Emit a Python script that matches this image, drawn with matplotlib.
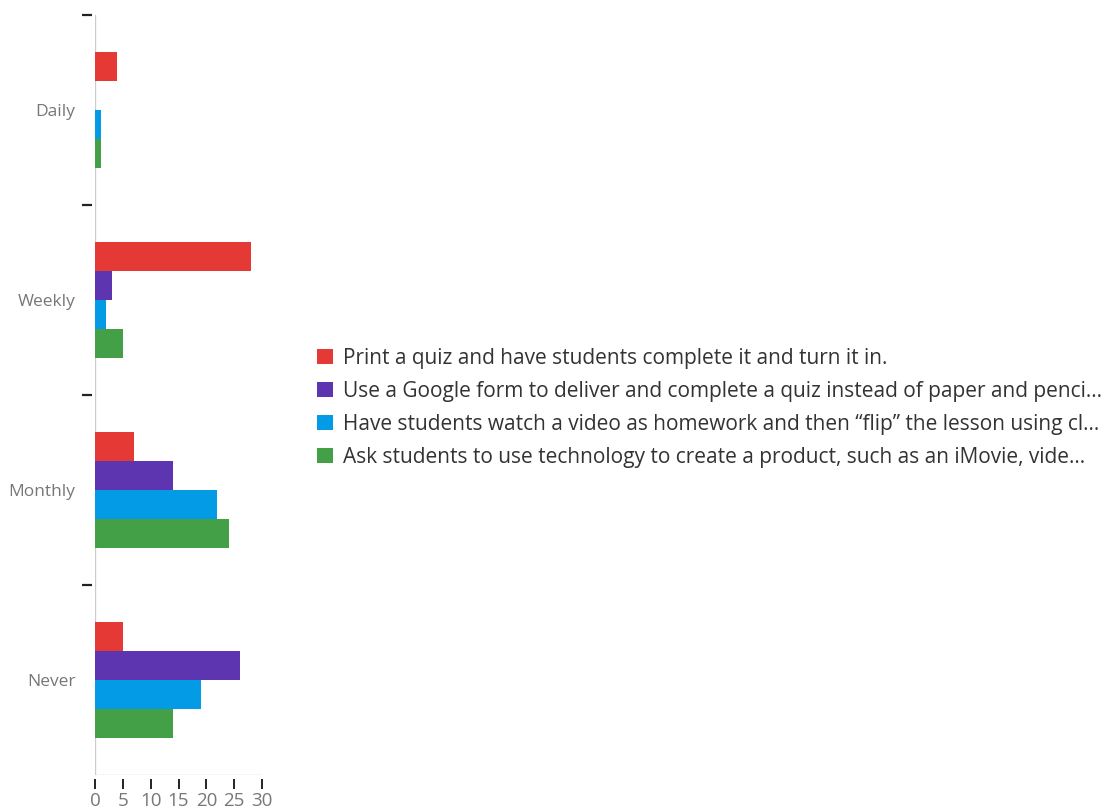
import matplotlib
matplotlib.use("Agg")
import matplotlib.pyplot as plt
import numpy as np
from matplotlib.patches import Patch

categories = ["Daily", "Weekly", "Monthly", "Never"]
series_names = [
    "Print a quiz and have students complete it and turn it in.",
    "Use a Google form to deliver and complete a quiz instead of paper and penci...",
    "Have students watch a video as homework and then \u201cflip\u201d the lesson using cl...",
    "Ask students to use technology to create a product, such as an iMovie, vide...",
]
print_quiz = [4, 28, 7, 5]
google_form = [0, 3, 14, 26]
flip_video = [1, 2, 22, 19]
tech_product = [1, 5, 24, 14]
x_ticks = [0, 5, 10, 15, 20, 25, 30]

colors = ["#e53935", "#5e35b1", "#039be5", "#43a047"]
series = [print_quiz, google_form, flip_video, tech_product]

plt.rcParams["font.family"] = ["Open Sans", "DejaVu Sans"]

fig = plt.figure(figsize=(11.12, 8.08), dpi=100)
ax = fig.add_axes([95 / 1112, 1 - 775 / 808, (262 - 95) / 1112, (775 - 15) / 808])

n = len(series)
bar_h = 0.153
pos = np.arange(len(categories))
for i, (vals, c) in enumerate(zip(series, colors)):
    offs = (i - (n - 1) / 2) * bar_h
    ax.barh(pos + offs, vals, height=bar_h, color=c, edgecolor="none")

ax.set_xlim(0, 30)
ax.set_ylim(len(categories) - 0.5, -0.5)

# thin grey axis lines, with tick marks set slightly apart from them
ax.axvline(0, color="#cccccc", lw=1.0, zorder=0)
ax.axhline(len(categories) - 0.5, color="#cccccc", lw=1.0, zorder=0)
for s in ["top", "right", "left", "bottom"]:
    ax.spines[s].set_visible(False)
ax.spines["left"].set_position(("outward", 2))
ax.spines["bottom"].set_position(("outward", 3))

ax.set_yticks(pos)
ax.set_yticklabels(categories, color="#777777", fontsize=12.5)
ax.tick_params(axis="y", which="major", length=0, pad=12)
ax.set_yticks(np.arange(len(categories)) - 0.5, minor=True)
ax.tick_params(axis="y", which="minor", length=7, width=1.6, color="#222222")

ax.set_xticks(x_ticks)
ax.set_xticklabels([str(t) for t in x_ticks], color="#777777", fontsize=13.5)
ax.tick_params(axis="x", length=7, width=1.4, color="#222222", pad=2)

handles = [Patch(facecolor=c, edgecolor="none") for c in colors]
fig.legend(handles, series_names, loc="upper left", bbox_to_anchor=(317 / 1112, 1 - 348 / 808),
           frameon=False, fontsize=15, handlelength=0.75, handleheight=0.75,
           handletextpad=0.5, labelspacing=0.57, borderpad=0, borderaxespad=0,
           labelcolor="#333333")

fig.savefig("out.png", dpi=100)
